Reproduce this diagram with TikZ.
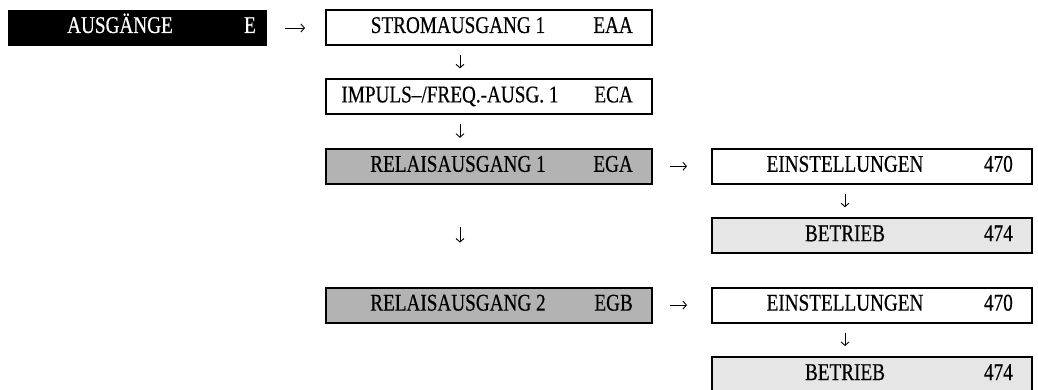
\documentclass[tikz,border=0pt]{standalone}
\usepackage{fontspec}
\setmainfont[FakeStretch=0.8,FakeBold=0.4]{Liberation Serif}
\usetikzlibrary{arrows.meta}
\definecolor{midgray}{RGB}{179,179,179}
\definecolor{lightgray}{RGB}{230,230,230}
\begin{document}
\begin{tikzpicture}[x=1pt,y=-1pt,
  box/.style={draw,line width=2pt,minimum height=35pt,inner sep=0pt,outer sep=0pt,anchor=north west},
  lbox/.style={box,minimum width=326pt},
  rbox/.style={box,minimum width=320pt},
  txt/.style={font=\fontsize{24}{28}\selectfont,inner sep=0pt,anchor=base},
  code/.style={txt,anchor=base east},
  arr/.style={-{Straight Barb[length=3.5pt,width=8pt]},line width=0.9pt}]
\useasboundingbox (0,0) rectangle (1038,390);
% boxes
\node[fill=black,minimum width=259pt,minimum height=36pt,inner sep=0pt,outer sep=0pt,anchor=north west] (ausg) at (8,10) {};
\node[lbox] (strom) at (326,10) {};
\node[lbox] (impuls) at (326,79.4) {};
\node[lbox,fill=midgray] (rel1) at (326,148.8) {};
\node[lbox,fill=midgray] (rel2) at (326,287.6) {};
\node[rbox] (ein1) at (712,148.8) {};
\node[rbox,fill=lightgray] (bet1) at (712,218.2) {};
\node[rbox] (ein2) at (712,287.6) {};
\node[rbox,fill=lightgray] (bet2) at (712,357) {};
% texts
\node[txt,text=white] (tausg) at (120,33) {AUSGÄNGE};
\node[code,text=white] (causg) at (256,33) {E};
\node[txt] (tstrom) at (458,33) {STROMAUSGANG 1};
\node[code] (cstrom) at (633,33) {EAA};
\node[txt] (timpuls) at (450,102.4) {IMPULS–/FREQ.-AUSG. 1};
\node[code] (cimpuls) at (633,102.4) {ECA};
\node[txt] (trel1) at (458,171.8) {RELAISAUSGANG 1};
\node[code] (crel1) at (633,171.8) {EGA};
\node[txt] (trel2) at (458,310.6) {RELAISAUSGANG 2};
\node[code] (crel2) at (633,310.6) {EGB};
\node[txt] (tein1) at (845,171.8) {EINSTELLUNGEN};
\node[code] (cein1) at (1013,171.8) {470};
\node[txt] (tbet1) at (845,241.2) {BETRIEB};
\node[code] (cbet1) at (1013,241.2) {474};
\node[txt] (tein2) at (845,310.6) {EINSTELLUNGEN};
\node[code] (cein2) at (1013,310.6) {470};
\node[txt] (tbet2) at (845,380) {BETRIEB};
\node[code] (cbet2) at (1013,380) {474};
% connectors
\draw[arr,shorten <=18pt,shorten >=21pt] (ausg.east) -- (ausg.east -| strom.west);
\draw[arr,shorten <=10pt,shorten >=11pt] ([xshift=-29pt]strom.south) -- ([xshift=-29pt]impuls.north);
\draw[arr,shorten <=10pt,shorten >=11pt] ([xshift=-29pt]impuls.south) -- ([xshift=-29pt]rel1.north);
\draw[arr,shorten <=43pt,shorten >=45pt] ([xshift=-29pt]rel1.south) -- ([xshift=-29pt]rel2.north);
\draw[arr,shorten <=18pt,shorten >=25pt] (rel1.east) -- (ein1.west);
\draw[arr,shorten <=18pt,shorten >=25pt] (rel2.east) -- (ein2.west);
\draw[arr,shorten <=10pt,shorten >=11pt] ([xshift=-27pt]ein1.south) -- ([xshift=-27pt]bet1.north);
\draw[arr,shorten <=10pt,shorten >=11pt] ([xshift=-27pt]ein2.south) -- ([xshift=-27pt]bet2.north);
\end{tikzpicture}
\end{document}
